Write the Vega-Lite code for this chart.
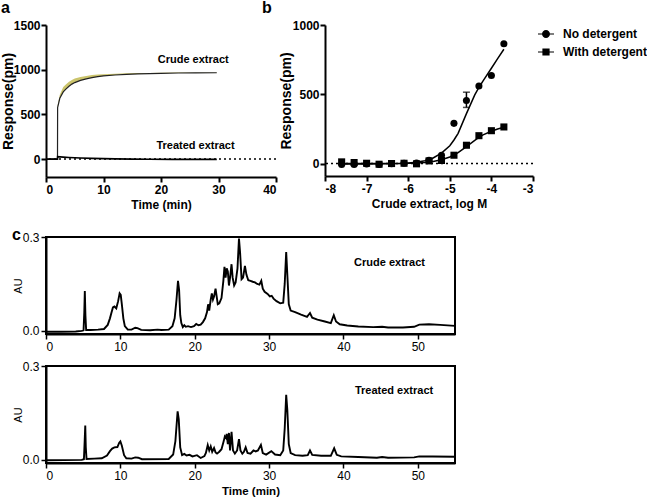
{
  "$schema": "https://vega.github.io/schema/vega-lite/v6.json",
  "background": "white",
  "padding": {"left": 1, "top": 0, "right": 0, "bottom": 0},
  "config": {
    "font": "Liberation Sans",
    "view": {"stroke": null},
    "axis": {
      "domainColor": "black", "domainWidth": 2, "tickColor": "black", "tickWidth": 2, "tickSize": 5,
      "labelColor": "black", "titleColor": "black", "grid": false,
      "labelFont": "Liberation Sans", "titleFont": "Liberation Sans",
      "labelFontSize": 12, "titleFontSize": 12, "labelFontWeight": "bold", "titleFontWeight": "bold",
      "labelPadding": 2, "titlePadding": 4
    },
    "title": {"font": "Liberation Sans", "color": "black"}
  },
  "datasets": {
    "aCrude": [
      {"t": 0, "v": 0, "up": 0}, {"t": 2.0, "v": 0, "up": 0}, {"t": 2.02, "v": 577, "up": 597},
      {"t": 2.4, "v": 680, "up": 720}, {"t": 3.0, "v": 752, "up": 807}, {"t": 3.5, "v": 785, "up": 838},
      {"t": 4.0, "v": 815, "up": 865}, {"t": 4.5, "v": 839, "up": 886}, {"t": 5.0, "v": 856, "up": 901},
      {"t": 6.0, "v": 880, "up": 918}, {"t": 7.0, "v": 898, "up": 931}, {"t": 8.0, "v": 912, "up": 940},
      {"t": 9.0, "v": 922, "up": 946}, {"t": 10, "v": 930, "up": 950}, {"t": 12, "v": 941, "up": 956},
      {"t": 14, "v": 948, "up": 960}, {"t": 16, "v": 953, "up": 962}, {"t": 18, "v": 957, "up": 964},
      {"t": 20, "v": 960, "up": 966}, {"t": 23, "v": 963, "up": 968}, {"t": 26, "v": 965, "up": 969},
      {"t": 29.7, "v": 966, "up": 969}
    ],
    "aTreated": [
      {"t": 0, "v": 0}, {"t": 2.0, "v": 0}, {"t": 2.02, "v": 27}, {"t": 3, "v": 22}, {"t": 4, "v": 18},
      {"t": 5, "v": 15}, {"t": 6, "v": 12}, {"t": 8, "v": 8}, {"t": 10, "v": 5}, {"t": 12, "v": 3},
      {"t": 15, "v": 0}, {"t": 18, "v": -2}, {"t": 22, "v": -3}, {"t": 26, "v": -3}, {"t": 29.7, "v": -3}
    ],
    "bPts": [
      {"series": "No detergent", "x": -7.6, "y": -7}, {"series": "No detergent", "x": -7.3, "y": -7},
      {"series": "No detergent", "x": -7.0, "y": -4}, {"series": "No detergent", "x": -6.7, "y": -7},
      {"series": "No detergent", "x": -6.4, "y": -2}, {"series": "No detergent", "x": -6.1, "y": 2},
      {"series": "No detergent", "x": -5.8, "y": 3}, {"series": "No detergent", "x": -5.5, "y": 24},
      {"series": "No detergent", "x": -5.2, "y": 60}, {"series": "No detergent", "x": -4.9, "y": 290},
      {"series": "No detergent", "x": -4.6, "y": 455, "lo": 405, "hi": 515}, {"series": "No detergent", "x": -4.3, "y": 560},
      {"series": "No detergent", "x": -4.0, "y": 635}, {"series": "No detergent", "x": -3.7, "y": 865},
      {"series": "With detergent", "x": -7.6, "y": 12}, {"series": "With detergent", "x": -7.3, "y": 7},
      {"series": "With detergent", "x": -7.0, "y": 2}, {"series": "With detergent", "x": -6.7, "y": -5},
      {"series": "With detergent", "x": -6.4, "y": 0}, {"series": "With detergent", "x": -6.1, "y": 2},
      {"series": "With detergent", "x": -5.8, "y": -2}, {"series": "With detergent", "x": -5.5, "y": 19},
      {"series": "With detergent", "x": -5.2, "y": 22}, {"series": "With detergent", "x": -4.9, "y": 60},
      {"series": "With detergent", "x": -4.6, "y": 132}, {"series": "With detergent", "x": -4.3, "y": 201},
      {"series": "With detergent", "x": -4.0, "y": 237}, {"series": "With detergent", "x": -3.7, "y": 264}
    ],
    "bFit": [
      {"series": "No detergent", "x": -7.6, "y": -3}, {"series": "No detergent", "x": -7.0, "y": -3},
      {"series": "No detergent", "x": -6.5, "y": -2}, {"series": "No detergent", "x": -6.2, "y": 0},
      {"series": "No detergent", "x": -6.0, "y": 3}, {"series": "No detergent", "x": -5.8, "y": 9},
      {"series": "No detergent", "x": -5.6, "y": 20}, {"series": "No detergent", "x": -5.4, "y": 40},
      {"series": "No detergent", "x": -5.2, "y": 75}, {"series": "No detergent", "x": -5.0, "y": 128},
      {"series": "No detergent", "x": -4.9, "y": 170}, {"series": "No detergent", "x": -4.8, "y": 218},
      {"series": "No detergent", "x": -4.6, "y": 360}, {"series": "No detergent", "x": -4.4, "y": 495},
      {"series": "No detergent", "x": -4.3, "y": 549}, {"series": "No detergent", "x": -4.2, "y": 597},
      {"series": "No detergent", "x": -4.0, "y": 688}, {"series": "No detergent", "x": -3.85, "y": 757},
      {"series": "No detergent", "x": -3.7, "y": 825},
      {"series": "With detergent", "x": -7.6, "y": 0}, {"series": "With detergent", "x": -6.0, "y": 2},
      {"series": "With detergent", "x": -5.8, "y": 4}, {"series": "With detergent", "x": -5.6, "y": 8},
      {"series": "With detergent", "x": -5.4, "y": 15}, {"series": "With detergent", "x": -5.2, "y": 28},
      {"series": "With detergent", "x": -5.0, "y": 47}, {"series": "With detergent", "x": -4.8, "y": 78},
      {"series": "With detergent", "x": -4.6, "y": 122}, {"series": "With detergent", "x": -4.4, "y": 167},
      {"series": "With detergent", "x": -4.3, "y": 188}, {"series": "With detergent", "x": -4.2, "y": 207},
      {"series": "With detergent", "x": -4.0, "y": 233}, {"series": "With detergent", "x": -3.85, "y": 249},
      {"series": "With detergent", "x": -3.7, "y": 262}
    ],
    "cCrude": [
      {"t": 0, "v": -0.003}, {"t": 2, "v": -0.003}, {"t": 4, "v": -0.002}, {"t": 4.8, "v": 0.0},
      {"t": 5.05, "v": 0.002}, {"t": 5.15, "v": 0.06}, {"t": 5.22, "v": 0.127}, {"t": 5.3, "v": 0.05},
      {"t": 5.4, "v": 0.003}, {"t": 6, "v": 0.003}, {"t": 7, "v": 0.004}, {"t": 7.8, "v": 0.006},
      {"t": 8.3, "v": 0.019}, {"t": 8.6, "v": 0.04}, {"t": 8.8, "v": 0.058}, {"t": 9.0, "v": 0.075},
      {"t": 9.2, "v": 0.078}, {"t": 9.45, "v": 0.072}, {"t": 9.7, "v": 0.095}, {"t": 9.9, "v": 0.12},
      {"t": 10.05, "v": 0.115}, {"t": 10.2, "v": 0.085}, {"t": 10.4, "v": 0.04}, {"t": 10.6, "v": 0.015},
      {"t": 11.0, "v": 0.004}, {"t": 11.5, "v": 0.004}, {"t": 12.0, "v": 0.01}, {"t": 12.3, "v": 0.009},
      {"t": 12.8, "v": 0.003}, {"t": 14, "v": 0.002}, {"t": 15, "v": 0.004}, {"t": 15.5, "v": 0.003},
      {"t": 16.5, "v": 0.004}, {"t": 17.0, "v": 0.015}, {"t": 17.3, "v": 0.04}, {"t": 17.55, "v": 0.1},
      {"t": 17.75, "v": 0.16}, {"t": 17.9, "v": 0.13}, {"t": 18.05, "v": 0.05}, {"t": 18.2, "v": 0.025},
      {"t": 18.4, "v": 0.012}, {"t": 18.6, "v": 0.018}, {"t": 18.8, "v": 0.013}, {"t": 19.1, "v": 0.015},
      {"t": 19.5, "v": 0.012}, {"t": 19.9, "v": 0.015}, {"t": 20.2, "v": 0.022}, {"t": 20.5, "v": 0.018},
      {"t": 20.8, "v": 0.02}, {"t": 21.1, "v": 0.028}, {"t": 21.4, "v": 0.04}, {"t": 21.65, "v": 0.06},
      {"t": 21.8, "v": 0.085}, {"t": 21.95, "v": 0.065}, {"t": 22.15, "v": 0.1}, {"t": 22.3, "v": 0.12},
      {"t": 22.45, "v": 0.1}, {"t": 22.6, "v": 0.11}, {"t": 22.8, "v": 0.135}, {"t": 22.95, "v": 0.11},
      {"t": 23.1, "v": 0.085}, {"t": 23.3, "v": 0.088}, {"t": 23.6, "v": 0.105}, {"t": 23.85, "v": 0.16},
      {"t": 24.0, "v": 0.205}, {"t": 24.15, "v": 0.17}, {"t": 24.3, "v": 0.2}, {"t": 24.45, "v": 0.19},
      {"t": 24.6, "v": 0.145}, {"t": 24.75, "v": 0.17}, {"t": 24.95, "v": 0.213}, {"t": 25.1, "v": 0.17},
      {"t": 25.3, "v": 0.145}, {"t": 25.5, "v": 0.155}, {"t": 25.75, "v": 0.2}, {"t": 25.95, "v": 0.295},
      {"t": 26.1, "v": 0.25}, {"t": 26.3, "v": 0.165}, {"t": 26.5, "v": 0.17}, {"t": 26.75, "v": 0.208},
      {"t": 26.95, "v": 0.18}, {"t": 27.2, "v": 0.162}, {"t": 27.5, "v": 0.16}, {"t": 27.8, "v": 0.157},
      {"t": 28.1, "v": 0.155}, {"t": 28.4, "v": 0.15}, {"t": 28.7, "v": 0.148}, {"t": 28.95, "v": 0.16},
      {"t": 29.15, "v": 0.135}, {"t": 29.4, "v": 0.125}, {"t": 29.8, "v": 0.118}, {"t": 30.1, "v": 0.11},
      {"t": 30.35, "v": 0.112}, {"t": 30.6, "v": 0.103}, {"t": 31.0, "v": 0.095}, {"t": 31.5, "v": 0.088},
      {"t": 31.9, "v": 0.09}, {"t": 32.1, "v": 0.15}, {"t": 32.3, "v": 0.252}, {"t": 32.45, "v": 0.18},
      {"t": 32.65, "v": 0.085}, {"t": 32.9, "v": 0.065}, {"t": 33.5, "v": 0.06}, {"t": 34.3, "v": 0.052},
      {"t": 35.1, "v": 0.045}, {"t": 35.5, "v": 0.057}, {"t": 35.8, "v": 0.042}, {"t": 36.5, "v": 0.036},
      {"t": 37.5, "v": 0.03}, {"t": 38.3, "v": 0.025}, {"t": 38.7, "v": 0.05}, {"t": 39.0, "v": 0.03},
      {"t": 39.5, "v": 0.021}, {"t": 40.5, "v": 0.017}, {"t": 42, "v": 0.014}, {"t": 44, "v": 0.012},
      {"t": 45.2, "v": 0.013}, {"t": 46, "v": 0.011}, {"t": 48, "v": 0.011}, {"t": 49.5, "v": 0.013},
      {"t": 50.2, "v": 0.02}, {"t": 51.5, "v": 0.021}, {"t": 53, "v": 0.019}, {"t": 55, "v": 0.016}
    ],
    "cTreated": [
      {"t": 0, "v": -0.001}, {"t": 4.8, "v": 0.0}, {"t": 5.1, "v": 0.002}, {"t": 5.2, "v": 0.06},
      {"t": 5.28, "v": 0.11}, {"t": 5.35, "v": 0.04}, {"t": 5.45, "v": 0.003}, {"t": 6.5, "v": 0.004},
      {"t": 7.5, "v": 0.005}, {"t": 8.2, "v": 0.014}, {"t": 8.6, "v": 0.028}, {"t": 8.9, "v": 0.036},
      {"t": 9.2, "v": 0.04}, {"t": 9.6, "v": 0.041}, {"t": 9.85, "v": 0.055}, {"t": 10.0, "v": 0.059},
      {"t": 10.2, "v": 0.045}, {"t": 10.5, "v": 0.015}, {"t": 10.8, "v": 0.005}, {"t": 11.5, "v": 0.004},
      {"t": 12.0, "v": 0.008}, {"t": 12.4, "v": 0.007}, {"t": 12.9, "v": 0.002}, {"t": 16.5, "v": 0.003},
      {"t": 17.1, "v": 0.017}, {"t": 17.4, "v": 0.06}, {"t": 17.7, "v": 0.155}, {"t": 17.85, "v": 0.13},
      {"t": 18.05, "v": 0.04}, {"t": 18.3, "v": 0.015}, {"t": 18.6, "v": 0.019}, {"t": 18.9, "v": 0.014},
      {"t": 19.3, "v": 0.016}, {"t": 19.7, "v": 0.011}, {"t": 20.3, "v": 0.015}, {"t": 20.8, "v": 0.006},
      {"t": 21.3, "v": 0.012}, {"t": 21.5, "v": 0.022}, {"t": 21.75, "v": 0.047}, {"t": 21.95, "v": 0.03},
      {"t": 22.15, "v": 0.043}, {"t": 22.35, "v": 0.026}, {"t": 22.6, "v": 0.038}, {"t": 22.8, "v": 0.024},
      {"t": 23.0, "v": 0.02}, {"t": 23.3, "v": 0.026}, {"t": 23.6, "v": 0.034}, {"t": 23.9, "v": 0.06},
      {"t": 24.05, "v": 0.075}, {"t": 24.2, "v": 0.07}, {"t": 24.3, "v": 0.083}, {"t": 24.45, "v": 0.05},
      {"t": 24.6, "v": 0.086}, {"t": 24.75, "v": 0.03}, {"t": 24.95, "v": 0.09}, {"t": 25.15, "v": 0.03},
      {"t": 25.4, "v": 0.02}, {"t": 25.7, "v": 0.03}, {"t": 25.95, "v": 0.066}, {"t": 26.15, "v": 0.03},
      {"t": 26.4, "v": 0.02}, {"t": 26.6, "v": 0.025}, {"t": 26.85, "v": 0.04}, {"t": 27.1, "v": 0.022},
      {"t": 27.5, "v": 0.02}, {"t": 27.9, "v": 0.03}, {"t": 28.2, "v": 0.027}, {"t": 28.5, "v": 0.03},
      {"t": 28.9, "v": 0.048}, {"t": 29.15, "v": 0.022}, {"t": 29.6, "v": 0.017}, {"t": 30.3, "v": 0.028},
      {"t": 30.8, "v": 0.017}, {"t": 31.5, "v": 0.015}, {"t": 31.9, "v": 0.03}, {"t": 32.1, "v": 0.1},
      {"t": 32.3, "v": 0.208}, {"t": 32.45, "v": 0.16}, {"t": 32.65, "v": 0.05}, {"t": 32.9, "v": 0.022},
      {"t": 33.5, "v": 0.015}, {"t": 34.5, "v": 0.013}, {"t": 35.2, "v": 0.015}, {"t": 35.5, "v": 0.03},
      {"t": 35.8, "v": 0.016}, {"t": 37, "v": 0.013}, {"t": 38.3, "v": 0.013}, {"t": 38.75, "v": 0.037},
      {"t": 39.1, "v": 0.016}, {"t": 39.7, "v": 0.011}, {"t": 42, "v": 0.009}, {"t": 44.5, "v": 0.007},
      {"t": 45.2, "v": 0.009}, {"t": 46, "v": 0.007}, {"t": 49.5, "v": 0.008}, {"t": 50.2, "v": 0.011},
      {"t": 52, "v": 0.011}, {"t": 55, "v": 0.01}
    ]
  },
  "columns": 1,
  "align": "none",
  "spacing": 16,
  "concat": [
    {
      "spacing": 2,
      "title": {"text": "b", "anchor": "start", "fontSize": 16, "fontWeight": "bold", "dx": 261, "offset": -16},
      "hconcat": [
        {
          "width": 230, "height": 152,
          "title": {"text": "a", "anchor": "start", "frame": "bounds", "fontSize": 16, "fontWeight": "bold", "offset": 3},
          "layer": [
            {
              "data": {"name": "aCrude"},
              "mark": {"type": "area", "color": "#cbc46c"},
              "encoding": {
                "x": {"field": "t", "type": "quantitative", "scale": {"domain": [0, 40], "nice": false}, "axis": {"values": [0, 10, 20, 30, 40], "title": "Time (min)"}},
                "y": {"field": "v", "type": "quantitative", "scale": {"domain": [-200, 1500], "nice": false}, "axis": {"values": [0, 500, 1000, 1500], "format": "d", "title": "Response(pm)", "titleFontSize": 14, "titlePadding": 0, "labelPadding": 1, "minExtent": 31, "maxExtent": 31}},
                "y2": {"field": "up"}
              }
            },
            {
              "data": {"values": [{}]},
              "mark": {"type": "rule", "color": "black", "strokeWidth": 1.5, "strokeDash": [2, 3]},
              "encoding": {"y": {"datum": 0, "type": "quantitative"}}
            },
            {
              "data": {"name": "aCrude"},
              "mark": {"type": "line", "color": "#222222", "strokeWidth": 1.2},
              "encoding": {"x": {"field": "t", "type": "quantitative"}, "y": {"field": "v", "type": "quantitative"}}
            },
            {
              "data": {"name": "aTreated"},
              "mark": {"type": "line", "color": "black", "strokeWidth": 1.6},
              "encoding": {"x": {"field": "t", "type": "quantitative"}, "y": {"field": "v", "type": "quantitative"}}
            },
            {
              "data": {"values": [{}]},
              "mark": {"type": "text", "fontSize": 11, "fontWeight": "bold", "color": "black"},
              "encoding": {"x": {"datum": 25.6, "type": "quantitative"}, "y": {"datum": 1110, "type": "quantitative"}, "text": {"value": "Crude extract"}}
            },
            {
              "data": {"values": [{}]},
              "mark": {"type": "text", "fontSize": 11, "fontWeight": "bold", "color": "black"},
              "encoding": {"x": {"datum": 26.0, "type": "quantitative"}, "y": {"datum": 150, "type": "quantitative"}, "text": {"value": "Treated extract"}}
            }
          ]
        },
        {
          "width": 208, "height": 151,
          "resolve": {"scale": {"shape": "independent"}},
          "layer": [
            {
              "data": {"values": [{}]},
              "mark": {"type": "rule", "color": "black", "strokeWidth": 1.5, "strokeDash": [2, 3]},
              "encoding": {"y": {"datum": 0, "type": "quantitative"}}
            },
            {
              "data": {"name": "bFit"},
              "mark": {"type": "line", "color": "black", "strokeWidth": 1.5},
              "encoding": {
                "x": {"field": "x", "type": "quantitative", "scale": {"domain": [-8, -3], "nice": false}, "axis": {"values": [-8, -7, -6, -5, -4, -3], "labelExpr": "'' + datum.value", "title": "Crude extract, log M"}},
                "y": {"field": "y", "type": "quantitative", "scale": {"domain": [-90, 1000], "nice": false}, "axis": {"values": [0, 500, 1000], "format": "d", "title": "Response(pm)", "titleFontSize": 14, "titlePadding": 0, "labelPadding": 1, "minExtent": 32, "maxExtent": 32}},
                "detail": {"field": "series"}
              }
            },
            {
              "data": {"name": "bPts"},
              "transform": [{"filter": "isValid(datum.lo)"}],
              "mark": {"type": "rule", "color": "black", "strokeWidth": 1.5},
              "encoding": {"x": {"field": "x", "type": "quantitative"}, "y": {"field": "lo", "type": "quantitative"}, "y2": {"field": "hi"}}
            },
            {
              "data": {"name": "bPts"},
              "transform": [{"filter": "isValid(datum.lo)"}],
              "mark": {"type": "tick", "orient": "horizontal", "color": "black", "thickness": 1.5, "size": 7},
              "encoding": {"x": {"field": "x", "type": "quantitative"}, "y": {"field": "lo", "type": "quantitative"}}
            },
            {
              "data": {"name": "bPts"},
              "transform": [{"filter": "isValid(datum.lo)"}],
              "mark": {"type": "tick", "orient": "horizontal", "color": "black", "thickness": 1.5, "size": 7},
              "encoding": {"x": {"field": "x", "type": "quantitative"}, "y": {"field": "hi", "type": "quantitative"}}
            },
            {
              "data": {"name": "bPts"},
              "mark": {"type": "point", "filled": true, "color": "black", "size": 50, "opacity": 1},
              "encoding": {
                "x": {"field": "x", "type": "quantitative"},
                "y": {"field": "y", "type": "quantitative"},
                "shape": {"field": "series", "type": "nominal", "scale": {"domain": ["No detergent", "With detergent"], "range": ["circle", "square"]}, "legend": null}
              }
            },
            {
              "data": {"name": "bPts"},
              "transform": [{"filter": "datum.x > 100"}],
              "mark": {"type": "point", "filled": true, "fill": "black", "size": 256, "opacity": 1},
              "encoding": {
                "x": {"field": "x", "type": "quantitative"},
                "y": {"field": "y", "type": "quantitative"},
                "shape": {
                  "field": "series", "type": "nominal",
                  "scale": {"domain": ["No detergent", "With detergent"], "range": ["M-1,-0.07H1V0.07H-1Z M0.5,0A0.5,0.5,0,1,1,-0.5,0A0.5,0.5,0,1,1,0.5,0Z", "M-1,-0.07H1V0.07H-1Z M-0.45,-0.45H0.45V0.45H-0.45Z"]},
                  "legend": {
                    "title": null, "orient": "right", "offset": 4, "labelFontSize": 12, "labelFontWeight": "bold",
                    "labelColor": "black", "labelFont": "Liberation Sans", "symbolSize": 256, "rowPadding": 2, "labelOffset": 8,
                    "symbolFillColor": "black"
                  }
                }
              }
            }
          ]
        }
      ]
    },
    {
      "spacing": 6,
      "vconcat": [
        {
          "width": 409, "height": 97,
          "view": {"stroke": "black", "strokeWidth": 2},
          "title": {"text": "c", "anchor": "start", "frame": "bounds", "fontSize": 16, "fontWeight": "bold", "offset": -12},
          "layer": [
            {
              "data": {"name": "cCrude"},
              "mark": {"type": "line", "color": "black", "strokeWidth": 1.9},
              "encoding": {
                "x": {"field": "t", "type": "quantitative", "scale": {"domain": [0, 55], "nice": false}, "axis": {"values": [0, 10, 20, 30, 40, 50], "title": null, "labelFontWeight": "normal", "tickWidth": 1.5}},
                "y": {"field": "v", "type": "quantitative", "scale": {"domain": [-0.01, 0.3], "nice": false}, "axis": {"values": [0, 0.1, 0.2, 0.3], "format": ".1f", "title": "AU", "titleFontSize": 11, "titleFontWeight": "normal", "labelFontWeight": "normal", "tickWidth": 1.5, "titlePadding": 0, "minExtent": 23, "maxExtent": 23}}
              }
            },
            {
              "data": {"values": [{}]},
              "mark": {"type": "text", "fontSize": 11, "fontWeight": "bold", "color": "black"},
              "encoding": {"x": {"datum": 46.2, "type": "quantitative"}, "y": {"datum": 0.218, "type": "quantitative"}, "text": {"value": "Crude extract"}}
            }
          ]
        },
        {
          "width": 409, "height": 97,
          "view": {"stroke": "black", "strokeWidth": 2},
          "layer": [
            {
              "data": {"name": "cTreated"},
              "mark": {"type": "line", "color": "black", "strokeWidth": 1.9},
              "encoding": {
                "x": {"field": "t", "type": "quantitative", "scale": {"domain": [0, 55], "nice": false}, "axis": {"values": [0, 10, 20, 30, 40, 50], "title": "Time (min)", "titleFontSize": 11.5, "labelFontWeight": "normal", "tickWidth": 1.5}},
                "y": {"field": "v", "type": "quantitative", "scale": {"domain": [-0.01, 0.3], "nice": false}, "axis": {"values": [0, 0.1, 0.2, 0.3], "format": ".1f", "title": "AU", "titleFontSize": 11, "titleFontWeight": "normal", "labelFontWeight": "normal", "tickWidth": 1.5, "titlePadding": 0, "minExtent": 23, "maxExtent": 23}}
              }
            },
            {
              "data": {"values": [{}]},
              "mark": {"type": "text", "fontSize": 11, "fontWeight": "bold", "color": "black"},
              "encoding": {"x": {"datum": 46.8, "type": "quantitative"}, "y": {"datum": 0.22, "type": "quantitative"}, "text": {"value": "Treated extract"}}
            }
          ]
        }
      ]
    }
  ]
}
